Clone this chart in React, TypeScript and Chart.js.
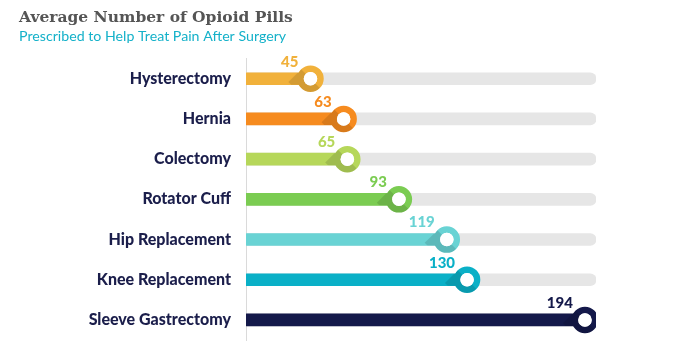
import React, { useEffect, useRef } from "react";
import { Chart, registerables } from "chart.js";

Chart.register(...registerables);

const categories = [
  "Hysterectomy",
  "Hernia",
  "Colectomy",
  "Rotator Cuff",
  "Hip Replacement",
  "Knee Replacement",
  "Sleeve Gastrectomy",
];
const pills = [45, 63, 65, 93, 119, 130, 194];
const colors = ["#F1B13B", "#F68B1F", "#B6D75A", "#7BCC52", "#69D3D4", "#0AB0C7", "#14194A"];
const trackMax = 200;
const axisMin = 10;

const titleText = "Average Number of Opioid Pills";
const subtitleText = "Prescribed to Help Treat Pain After Surgery";

const POINT_R = 10;
const POINT_BW = 6.5;
const BAR_T = 12;

const decorations = {
  id: "decorations",
  afterDatasetsDraw(chart: any) {
    const meta = chart.getDatasetMeta(2);
    const ctx = chart.ctx;
    const left = chart.chartArea.left;
    const outerR = POINT_R + POINT_BW / 2;
    const innerR = POINT_R - POINT_BW / 2;
    // long shadows
    meta.data.forEach((pt: any) => {
      const cx = pt.x;
      const cy = pt.y;
      ctx.save();
      ctx.beginPath();
      ctx.rect(left, cy - BAR_T / 2, cx - left, BAR_T);
      ctx.arc(cx, cy, outerR, 0, Math.PI * 2);
      ctx.clip();
      const s = Math.SQRT1_2;
      const nx = s, ny = s;
      const dx = -s, dy = s;
      const L = 18;
      ctx.beginPath();
      ctx.moveTo(cx + outerR * nx, cy + outerR * ny);
      ctx.lineTo(cx + outerR * nx + L * dx, cy + outerR * ny + L * dy);
      ctx.lineTo(cx - outerR * nx + L * dx, cy - outerR * ny + L * dy);
      ctx.lineTo(cx - outerR * nx, cy - outerR * ny);
      ctx.closePath();
      ctx.fillStyle = "rgba(0,0,0,0.12)";
      ctx.fill();
      ctx.restore();
      ctx.save();
      ctx.beginPath();
      ctx.arc(cx, cy, innerR, 0, Math.PI * 2);
      ctx.fillStyle = "#FFFFFF";
      ctx.fill();
      ctx.restore();
    });
    // value labels
    ctx.save();
    ctx.font = "900 15px Lato";
    ctx.textAlign = "right";
    ctx.textBaseline = "middle";
    meta.data.forEach((pt: any, i: number) => {
      ctx.fillStyle = colors[i];
      ctx.fillText(String(pills[i]), pt.x - 12, pt.y - 17);
    });
    ctx.restore();
  },
};

export default function App() {
  const ref = useRef<HTMLCanvasElement | null>(null);

  useEffect(() => {
    if (!ref.current) return;
    const chart = new Chart(ref.current, {
      type: "bar",
      data: {
        labels: categories,
        datasets: [
          {
            type: "bar",
            data: categories.map(() => trackMax),
            backgroundColor: "#E6E6E6",
            barThickness: BAR_T,
            borderRadius: 6,
            borderSkipped: "start",
            grouped: false,
            order: 3,
          } as any,
          {
            type: "bar",
            data: pills,
            backgroundColor: colors,
            barThickness: BAR_T,
            grouped: false,
            order: 2,
          } as any,
          {
            type: "line",
            indexAxis: "y",
            data: pills,
            showLine: false,
            pointRadius: POINT_R,
            pointHoverRadius: POINT_R,
            pointBorderWidth: POINT_BW,
            pointBackgroundColor: "#FFFFFF",
            pointBorderColor: colors,
            order: 1,
          } as any,
        ],
      },
      options: {
        indexAxis: "y",
        responsive: false,
        maintainAspectRatio: false,
        animation: false,
        devicePixelRatio: 1,
        layout: { autoPadding: false, padding: { left: 19, right: 81, top: 0, bottom: 17 } },
        scales: {
          x: {
            display: false,
            min: axisMin,
            max: trackMax,
          },
          y: {
            grid: { display: false, drawTicks: false },
            border: { display: true, color: "#DADADA", width: 1 },
            ticks: {
              padding: 15,
              color: "#1B1E4B",
              font: { family: "Lato", size: 16, weight: "900" },
            },
            afterFit: (s: any) => {
              s.width = 227;
              s.paddingTop = 0;
              s.paddingBottom = 0;
            },
          },
        },
        plugins: {
          legend: { display: false },
          tooltip: { enabled: false },
          title: {
            display: true,
            text: titleText,
            align: "start",
            color: "#555555",
            font: { family: "DejaVu Serif", size: 15.5, weight: "bold", lineHeight: 1.2 },
            padding: { top: 9, bottom: 0 },
          },
          subtitle: {
            display: true,
            text: subtitleText,
            align: "start",
            color: "#14B1C9",
            font: { family: "Lato", size: 14.2, weight: "normal", lineHeight: 1.2 },
            padding: { top: 0, bottom: 14 },
          },
        },
      },
      plugins: [decorations],
    });
    return () => chart.destroy();
  }, []);

  return (
    <div style={{ position: "fixed", left: 0, top: 0, width: 677, height: 357, background: "#fff" }}>
      <canvas ref={ref} width={677} height={357} style={{ display: "block", width: 677, height: 357 }} />
    </div>
  );
}
